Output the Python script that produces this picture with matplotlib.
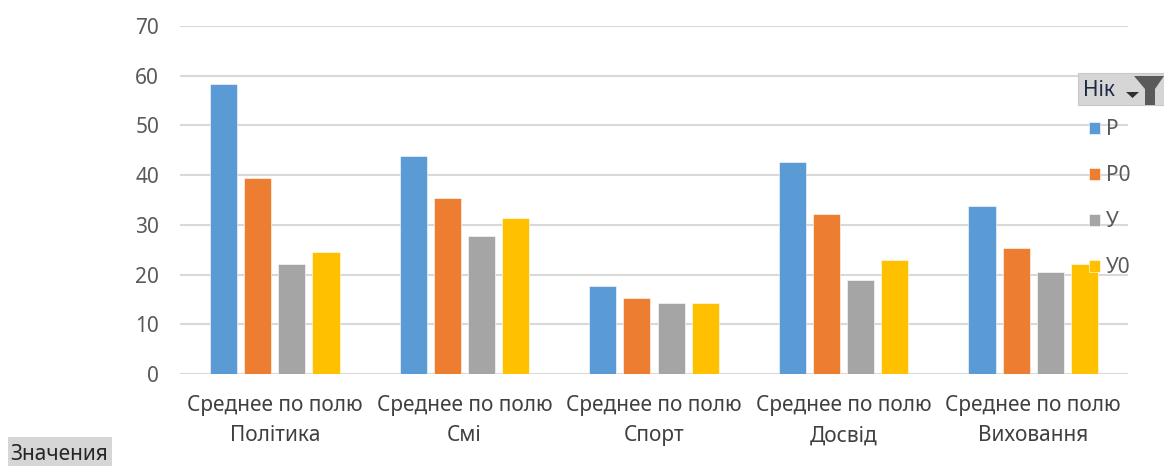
import numpy as np
import matplotlib.pyplot as plt
from matplotlib.patches import Rectangle, Polygon

plt.rcParams['font.family'] = ['Noto Sans', 'DejaVu Sans']

categories = ['Среднее по полю\nПолітика', 'Среднее по полю\nСмі', 'Среднее по полю\nСпорт',
              'Среднее по полю\nДосвід', 'Среднее по полю\nВиховання']
series = ['Р', 'Р0', 'У', 'У0']
p_vals = [58.3, 43.8, 17.7, 42.6, 33.8]
p0_vals = [39.4, 35.4, 15.3, 32.1, 25.4]
u_vals = [22.1, 27.8, 14.2, 18.9, 20.5]
u0_vals = [24.5, 31.4, 14.2, 22.9, 22.1]
colors = ['#5B9BD5', '#ED7D31', '#A5A5A5', '#FFC000']
yticks = [0, 10, 20, 30, 40, 50, 60, 70]

FS = 15

fig = plt.figure(figsize=(11.64, 4.66), dpi=100)
ax = fig.add_axes([180 / 1164, 1 - 374 / 466, 948 / 1164, 348 / 466])

x = np.arange(len(categories))
width = 0.143
step = 0.18
bars = []
for i, (vals, col) in enumerate(zip([p_vals, p0_vals, u_vals, u0_vals], colors)):
    b = ax.bar(x + (i - 1.5) * step, vals, width, color=col, label=series[i],
               edgecolor='white', linewidth=0.4, zorder=3)
    bars.append(b)

ax.set_xlim(-0.5, len(categories) - 0.5)
ax.set_ylim(0, 70)
ax.set_yticks(yticks)
ax.set_xticks(x)
ax.set_xticklabels(categories, fontsize=FS, color='#404040', linespacing=1.6)
ax.tick_params(axis='y', labelsize=FS, labelcolor='#595959', length=0, pad=15)
ax.tick_params(axis='x', length=0, pad=15)
ax.yaxis.grid(True, color='#d9d9d9', linewidth=1.5, zorder=0)
for s in ax.spines.values():
    s.set_visible(False)

# field button "Нік" with dropdown arrow and filter icon
fig.patches.append(Rectangle((1078 / 1164, 1 - 105 / 466), 86 / 1164, 32 / 466,
                             transform=fig.transFigure, facecolor='#d6d6d6',
                             edgecolor='#c8c8c8', linewidth=0.8, zorder=5))
fig.text(1083 / 1164, 1 - 90 / 466, 'Нік', fontsize=FS, color='#1f2a44',
         va='center', ha='left', zorder=6)
fig.patches.append(Polygon([(1126 / 1164, 1 - 92 / 466), (1139 / 1164, 1 - 92 / 466),
                            (1132.5 / 1164, 1 - 98 / 466)], closed=True,
                           transform=fig.transFigure, facecolor='#303030', zorder=6))
fig.patches.append(Polygon([(1134 / 1164, 1 - 76 / 466), (1164 / 1164, 1 - 76 / 466),
                            (1155 / 1164, 1 - 89 / 466), (1155 / 1164, 1 - 105 / 466),
                            (1145 / 1164, 1 - 105 / 466), (1145 / 1164, 1 - 89 / 466)],
                           closed=True, transform=fig.transFigure,
                           facecolor='#5a5a5a', zorder=6))

leg = fig.legend(handles=bars, labels=series, loc='upper left',
                 bbox_to_anchor=(1079 / 1164, 1 - 109 / 466), frameon=False,
                 fontsize=FS, labelspacing=1.2, handlelength=0.5,
                 handleheight=0.5, handletextpad=0.3, borderpad=0)
for t in leg.get_texts():
    t.set_color('#595959')

# "Значения" field button
fig.patches.append(Rectangle((8 / 1164, 0), 104 / 1164, 29 / 466,
                             transform=fig.transFigure, facecolor='#d6d6d6',
                             edgecolor='none', zorder=5))
fig.text(10 / 1164, 11 / 466, 'Значения', fontsize=FS, color='#262626',
         va='center', ha='left', zorder=6)

fig.savefig('out.png', dpi=100)
